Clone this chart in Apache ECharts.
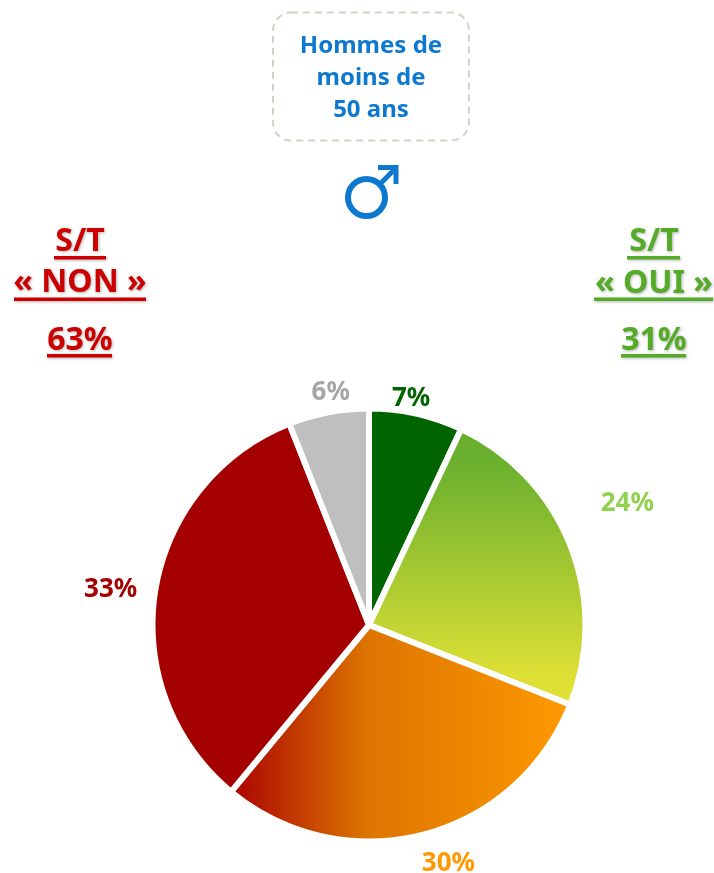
<!DOCTYPE html>
<html><head><meta charset="utf-8">
<style>html,body{margin:0;padding:0;background:#fff}#c{width:714px;height:873px}</style>
<script src="https://cdn.jsdelivr.net/npm/echarts@6/dist/echarts.min.js"></script></head>
<body><div id="c"></div>
<script>
const categories = ['Tout à fait', 'Plutôt oui', 'Plutôt non', 'Pas du tout', 'NSP'];
const values = [7, 24, 30, 33, 6];
const labelColors = ['#006400', '#92d050', '#ff9900', '#a50000', '#a6a6a6'];
const labelNudge = [[-31, -7], [18, -39], [-8, 21], [-5, 0], [28, -12]];
const titleLines = 'Hommes de\nmoins de\n50 ans';
const FONT = '"Noto Sans", sans-serif';
const RED = '#cc0000', GREEN = '#54ab27', BLUE = '#0c78cf';

const sliceColors = [
  '#006400',
  {type:'linear',x:0,y:0,x2:0,y2:1,colorStops:[{offset:0,color:'#66ae2d'},{offset:.15,color:'#6db12e'},{offset:.88,color:'#dcdf35'},{offset:1,color:'#e2e036'}]},
  {type:'linear',x:0,y:0,x2:1,y2:0,colorStops:[{offset:0,color:'#a80000'},{offset:.4,color:'#dc7400'},{offset:1,color:'#ff9a00'}]},
  '#a50000',
  '#bfbfbf'
];
function heading(cx, y, text, size, color){
  return {type:'text',x:cx,y:y,style:{text:text,font:'bold '+size+'px '+FONT,fill:color,align:'center',verticalAlign:'middle',
    textShadowColor:'rgba(0,0,0,.3)',textShadowBlur:3,textShadowOffsetX:1,textShadowOffsetY:1}};
}
function rule(x1,x2,y,color){
  return {type:'rect',shape:{x:x1,y:y,width:x2-x1,height:3.5},style:{fill:color,shadowColor:'rgba(0,0,0,.3)',shadowBlur:3,shadowOffsetX:1,shadowOffsetY:1}};
}
const chart = echarts.init(document.getElementById('c'), null, {renderer:'canvas'});
chart.setOption({
  animation:false,
  backgroundColor:'#fff',
  series:[{
    type:'pie',
    center:[369,625],
    radius:[0,216.5],
    startAngle:90,
    clockwise:true,
    itemStyle:{borderColor:'#fff',borderWidth:6},
    label:{show:true,position:'outside',formatter:p=>p.value+'%',fontFamily:FONT,fontWeight:'bold',fontSize:26},
    labelLine:{show:false,length:8,length2:0},
    labelLayout:p=>({dx:labelNudge[p.dataIndex][0],dy:labelNudge[p.dataIndex][1]}),
    data:categories.map((n,i)=>({name:n,value:values[i],itemStyle:{color:sliceColors[i]},label:{color:labelColors[i]}})),
    emphasis:{disabled:true}
  }],
  graphic:[
    {type:'rect',shape:{x:273,y:12.5,width:196,height:128,r:18},style:{fill:'none',stroke:'#d8d0c8',lineWidth:2,lineDash:[7,5]}},
    {type:'text',x:371,y:78,style:{text:titleLines,font:'bold 24px '+FONT,fill:BLUE,align:'center',verticalAlign:'middle',lineHeight:32}},
    {type:'circle',shape:{cx:366.5,cy:197.5,r:18.5},style:{fill:'none',stroke:BLUE,lineWidth:6}},
    {type:'line',shape:{x1:380,y1:184,x2:396,y2:168},style:{stroke:BLUE,lineWidth:5}},
    {type:'polyline',shape:{points:[[378,167.5],[396,167.5],[396,184]]},style:{fill:'none',stroke:BLUE,lineWidth:5}},
    heading(80,242,'S/T',32,RED), rule(54,106,256,RED),
    heading(80,283,'« NON »',32,RED), rule(14,146,297.5,RED),
    heading(80,341,'63%',32,RED), rule(47,112,354,RED),
    heading(654,242,'S/T',32,GREEN), rule(627,680,256,GREEN),
    heading(654,284,'« OUI »',32,GREEN), rule(594,713,297.5,GREEN),
    heading(654,341,'31%',32,GREEN), rule(621,686,354,GREEN)
  ]
});
</script></body></html>
